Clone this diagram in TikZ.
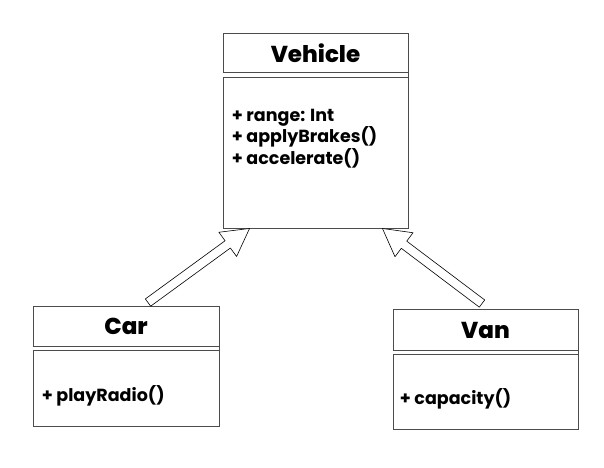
\documentclass[tikz,border=0pt]{standalone}
\usepackage{fontspec}
\setmainfont{Poppins}
\newfontfamily\heavyfont{Poppins}[UprightFont=* ExtraBold]
\usetikzlibrary{calc}

\tikzset{
  classbox/.style={draw=black!70, line width=0.9pt, minimum width=185pt, inner sep=0pt},
  classname/.style={font=\fontsize{23}{28}\selectfont\heavyfont},
  members/.style={anchor=west, align=left, inner sep=0pt, font=\fontsize{17.5}{18}\selectfont\bfseries},
  sepline/.style={draw=black!70, double, double distance=3.5pt, line width=0.9pt},
  fatarrow/.style={draw, line width=0.6pt, fill=white, line join=round,
    to path={let \p1=($(\tikztotarget)!27pt!(\tikztostart)$) in
      ($(\tikztostart)!4.5pt!90:(\tikztotarget)$) -- ($(\p1)!4.5pt!90:(\tikztotarget)$)
      -- ($(\p1)!15pt!90:(\tikztotarget)$) -- (\tikztotarget)
      -- ($(\p1)!15pt!-90:(\tikztotarget)$) -- ($(\p1)!4.5pt!-90:(\tikztotarget)$)
      -- ($(\tikztostart)!4.5pt!-90:(\tikztotarget)$) -- cycle}}
}

\begin{document}
\begin{tikzpicture}[x=1pt,y=-1pt]
  \useasboundingbox (0,0) rectangle (604,467);

  % superclass
  \node[classbox, minimum height=195pt] (vehicle) at (315.5,130.5) {};
  \draw[sepline] ([yshift=-42.5pt]vehicle.north west) -- ([yshift=-42.5pt]vehicle.north east);
  \node[classname] (vehiclename) at ([yshift=-21pt]vehicle.north) {Vehicle};
  \node[members] (vehiclemembers) at ([xshift=9pt,yshift=-106pt]vehicle.north west)
    {+ range: Int\\+ applyBrakes()\\+ accelerate()};

  % subclasses
  \node[classbox, minimum width=186pt, minimum height=120pt] (car) at (126,366) {};
  \draw[sepline] ([yshift=-43pt]car.north west) -- ([yshift=-43pt]car.north east);
  \node[classname] (carname) at ([yshift=-21pt]car.north) {Car};
  \node[members] (carmembers) at ([xshift=9pt,yshift=-90pt]car.north west) {+ playRadio()};

  \node[classbox, minimum height=120pt] (van) at (485.5,369) {};
  \draw[sepline] ([yshift=-44pt]van.north west) -- ([yshift=-44pt]van.north east);
  \node[classname] (vanname) at ([yshift=-22pt]van.north) {Van};
  \node[members] (vanmembers) at ([xshift=7pt,yshift=-90pt]van.north west) {+ capacity()};

  % generalisation
  \coordinate (cartail) at ([xshift=22pt,yshift=3pt]car.north);
  \coordinate (cartip) at ([xshift=27pt]vehicle.south west);
  \coordinate (vantail) at ([xshift=-3.5pt,yshift=5pt]van.north);
  \coordinate (vantip) at ([xshift=-26pt]vehicle.south east);
  \draw[fatarrow] (cartail) to (cartip);
  \draw[fatarrow] (vantail) to (vantip);
\end{tikzpicture}
\end{document}
